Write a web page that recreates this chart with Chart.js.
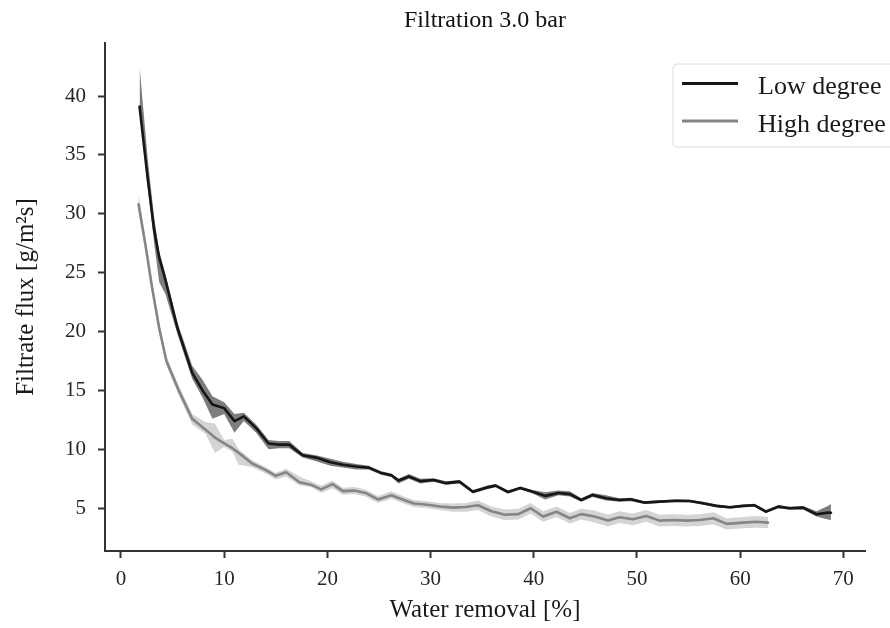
<!DOCTYPE html>
<html>
<head>
<meta charset="utf-8">
<script src="https://cdn.jsdelivr.net/npm/chart.js@4/dist/chart.umd.min.js"></script>
<style>
  body { margin: 0; background: #fff; }
  canvas { display: block; }
</style>
</head>
<body>
<canvas id="fluxChart" width="890" height="628"></canvas>
<script>
// ---- data ----
const chartTitle = "Filtration 3.0 bar";
const seriesNames = ["Low degree", "High degree"];
const xTicks = [0, 10, 20, 30, 40, 50, 60, 70];
const yTicks = [5, 10, 15, 20, 25, 30, 35, 40];

// low degree: water removal [%], mean flux, band low / high
const lowX  = [1.8, 2.6, 3.2, 3.7, 4.3, 5.5, 6.9, 7.9, 8.86, 10.0, 11.0, 11.9, 13.1, 14.3, 15.3, 16.3, 17.6, 18.9, 20.3, 21.5, 22.8, 24.0, 25.2, 26.2, 26.9, 27.9, 29.0, 30.3, 31.5, 32.8, 34.1, 35.4, 36.3, 37.5, 38.7, 39.9, 41.1, 42.4, 43.5, 44.6, 45.7, 47.0, 48.3, 49.4, 50.7, 52.2, 53.8, 55.1, 56.4, 57.7, 59.0, 60.3, 61.4, 62.5, 63.7, 64.8, 66.1, 67.4, 68.5, 68.8];
const lowY  = [39.1, 32.9, 28.7, 26.3, 24.4, 20.2, 16.5, 15.0, 13.8, 13.5, 12.4, 12.8, 11.8, 10.5, 10.4, 10.4, 9.5, 9.3, 8.9, 8.7, 8.55, 8.45, 8.0, 7.8, 7.35, 7.7, 7.3, 7.4, 7.13, 7.26, 6.4, 6.75, 6.92, 6.38, 6.72, 6.4, 6.05, 6.3, 6.2, 5.7, 6.13, 5.85, 5.7, 5.76, 5.48, 5.56, 5.64, 5.61, 5.42, 5.2, 5.08, 5.2, 5.25, 4.71, 5.14, 5.0, 5.05, 4.49, 4.63, 4.62];
const lowLo = [38.6, 32.3, 27.6, 24.2, 23.2, 19.7, 16.0, 14.4, 12.6, 13.0, 11.4, 12.4, 11.4, 10.0, 10.1, 10.1, 9.3, 9.0, 8.6, 8.45, 8.3, 8.3, 7.85, 7.65, 7.1, 7.5, 7.1, 7.25, 7.0, 7.1, 6.25, 6.6, 6.8, 6.25, 6.6, 6.25, 5.75, 6.1, 6.0, 5.55, 5.95, 5.65, 5.55, 5.6, 5.35, 5.45, 5.52, 5.5, 5.3, 5.08, 4.95, 5.08, 5.12, 4.58, 5.0, 4.87, 4.9, 4.3, 4.05, 4.0];
const lowHi = [42.5, 34.6, 29.8, 26.8, 24.9, 20.7, 17.1, 15.9, 14.5, 14.0, 13.0, 13.1, 12.1, 10.8, 10.7, 10.7, 9.7, 9.5, 9.2, 8.95, 8.75, 8.6, 8.15, 7.95, 7.5, 7.9, 7.5, 7.55, 7.3, 7.4, 6.55, 6.9, 7.05, 6.5, 6.85, 6.55, 6.35, 6.5, 6.45, 5.85, 6.3, 6.1, 5.85, 5.9, 5.6, 5.68, 5.75, 5.72, 5.55, 5.32, 5.2, 5.32, 5.38, 4.85, 5.28, 5.13, 5.2, 4.75, 5.2, 5.35];

// high degree
const highX  = [1.7, 2.4, 3.0, 3.7, 4.4, 5.6, 6.9, 8.2, 9.1, 10.0, 10.8, 11.4, 12.7, 14.0, 15.0, 16.0, 17.3, 18.4, 19.4, 20.5, 21.5, 22.6, 23.7, 24.9, 26.2, 27.4, 28.4, 29.7, 30.9, 32.2, 33.4, 34.6, 35.9, 37.2, 38.5, 39.7, 40.9, 42.2, 43.5, 44.6, 45.9, 47.2, 48.3, 49.6, 50.9, 52.2, 53.5, 54.8, 56.1, 57.4, 58.7, 60.3, 61.6, 62.7];
const highY  = [30.8, 27.2, 23.8, 20.3, 17.5, 15.0, 12.6, 11.66, 11.0, 10.5, 10.1, 9.7, 8.8, 8.26, 7.75, 8.05, 7.2, 7.0, 6.6, 7.05, 6.45, 6.5, 6.3, 5.75, 6.1, 5.7, 5.4, 5.3, 5.15, 5.05, 5.1, 5.25, 4.75, 4.45, 4.5, 5.0, 4.3, 4.7, 4.15, 4.5, 4.3, 3.95, 4.23, 4.06, 4.34, 3.95, 4.0, 3.95, 4.0, 4.15, 3.67, 3.78, 3.86, 3.78];
const highLo = [30.4, 26.8, 23.4, 19.9, 17.1, 14.6, 12.1, 11.3, 9.7, 10.2, 9.8, 8.7, 8.5, 7.95, 7.45, 7.7, 6.95, 6.8, 6.3, 6.7, 6.15, 6.2, 6.0, 5.45, 5.8, 5.4, 5.1, 5.0, 4.85, 4.7, 4.7, 4.85, 4.3, 4.0, 4.05, 4.55, 3.85, 4.25, 3.7, 4.05, 3.8, 3.45, 3.75, 3.55, 3.85, 3.45, 3.5, 3.45, 3.5, 3.65, 3.2, 3.3, 3.35, 3.3];
const highHi = [31.8, 27.6, 24.2, 20.7, 17.9, 15.4, 13.0, 12.3, 12.2, 10.8, 10.9, 10.0, 9.1, 8.5, 8.0, 8.35, 7.7, 7.3, 6.9, 7.35, 6.75, 6.8, 6.6, 6.05, 6.45, 6.0, 5.7, 5.6, 5.45, 5.4, 5.45, 5.65, 5.15, 4.9, 4.95, 5.45, 4.75, 5.15, 4.6, 4.95, 4.8, 4.45, 4.75, 4.55, 4.85, 4.45, 4.5, 4.45, 4.5, 4.65, 4.15, 4.25, 4.35, 4.25];

const toPts = (xs, ys) => xs.map((x, i) => ({ x: x, y: ys[i] }));

const FONT = "'Liberation Serif', 'Times New Roman', serif";
const INK = "#262626";
Chart.defaults.font.family = FONT;
Chart.defaults.color = INK;

// title + legend drawn on top of the axes
const decorations = {
  id: "decorations",
  afterDraw(chart) {
    const c = chart.ctx;
    const area = chart.chartArea;
    c.save();
    // title
    c.fillStyle = "#111";
    c.font = "24px " + FONT;
    c.textAlign = "center";
    c.textBaseline = "middle";
    c.fillText(chartTitle, (area.left + area.right) / 2, 21);

    // legend box (runs off the right edge like the original)
    c.fillStyle = "rgba(255,255,255,0.85)";
    c.strokeStyle = "#dcdcdc";
    c.lineWidth = 1;
    c.beginPath();
    c.roundRect(673, 64, 240, 83, 4);
    c.fill();
    c.stroke();

    const lines = chart.data.datasets.filter(d => d.label);
    c.font = "26px " + FONT;
    c.textAlign = "left";
    c.textBaseline = "alphabetic";
    lines.forEach((d, i) => {
      const y = 83.5 + i * 37.5;
      c.strokeStyle = d.borderColor;
      c.lineWidth = 3;
      c.beginPath();
      c.moveTo(682, y);
      c.lineTo(738, y);
      c.stroke();
      c.fillStyle = "#1a1a1a";
      c.fillText(d.label, 758, y + 10.5);
    });
    c.restore();
  }
};

new Chart(document.getElementById("fluxChart"), {
  type: "line",
  data: {
    datasets: [
      { label: seriesNames[0], data: toPts(lowX, lowY), borderColor: "#161616", borderWidth: 2.6, order: 0 },
      { label: seriesNames[1], data: toPts(highX, highY), borderColor: "#858585", borderWidth: 2.6, order: 1 },
      { label: "", data: toPts(lowX, lowLo), borderColor: "transparent", borderWidth: 0, fill: false, order: 2 },
      { label: "", data: toPts(lowX, lowHi), borderColor: "transparent", borderWidth: 0, fill: "-1", backgroundColor: "rgba(70,70,70,0.7)", order: 2 },
      { label: "", data: toPts(highX, highLo), borderColor: "transparent", borderWidth: 0, fill: false, order: 3 },
      { label: "", data: toPts(highX, highHi), borderColor: "transparent", borderWidth: 0, fill: "-1", backgroundColor: "rgba(160,160,160,0.45)", order: 3 }
    ]
  },
  options: {
    responsive: false,
    animation: false,
    layout: { padding: { top: 43, right: 25, left: 0, bottom: 0 } },
    elements: {
      point: { radius: 0, hoverRadius: 0 },
      line: { tension: 0, borderJoinStyle: "round", borderCapStyle: "round" }
    },
    plugins: {
      legend: { display: false },
      title: { display: false },
      tooltip: { enabled: false }
    },
    scales: {
      x: {
        type: "linear",
        min: -1.55,
        max: 72.1,
        afterFit: s => { s.height = 77; },
        afterBuildTicks: s => { s.ticks = xTicks.map(v => ({ value: v })); },
        border: { display: true, color: "#333", width: 2 },
        grid: { drawOnChartArea: false, drawTicks: true, tickLength: 7, tickWidth: 2, tickColor: "#333" },
        ticks: { includeBounds: false, padding: 9, font: { size: 21 }, color: INK },
        title: { display: true, text: "Water removal [%]", font: { size: 25 }, color: "#1a1a1a", padding: { top: 0, bottom: 3 } }
      },
      y: {
        type: "linear",
        min: 1.37,
        max: 44.5,
        afterFit: s => { s.width = 105; },
        afterBuildTicks: s => { s.ticks = yTicks.map(v => ({ value: v })); },
        border: { display: true, color: "#333", width: 2 },
        grid: { drawOnChartArea: false, drawTicks: true, tickLength: 7, tickWidth: 2, tickColor: "#333" },
        ticks: { includeBounds: false, padding: 12, font: { size: 21 }, color: INK },
        title: { display: true, text: "Filtrate flux [g/m²s]", font: { size: 25 }, color: "#1a1a1a", padding: { top: 11, bottom: 0 } }
      }
    }
  },
  plugins: [decorations]
});
</script>
</body>
</html>
